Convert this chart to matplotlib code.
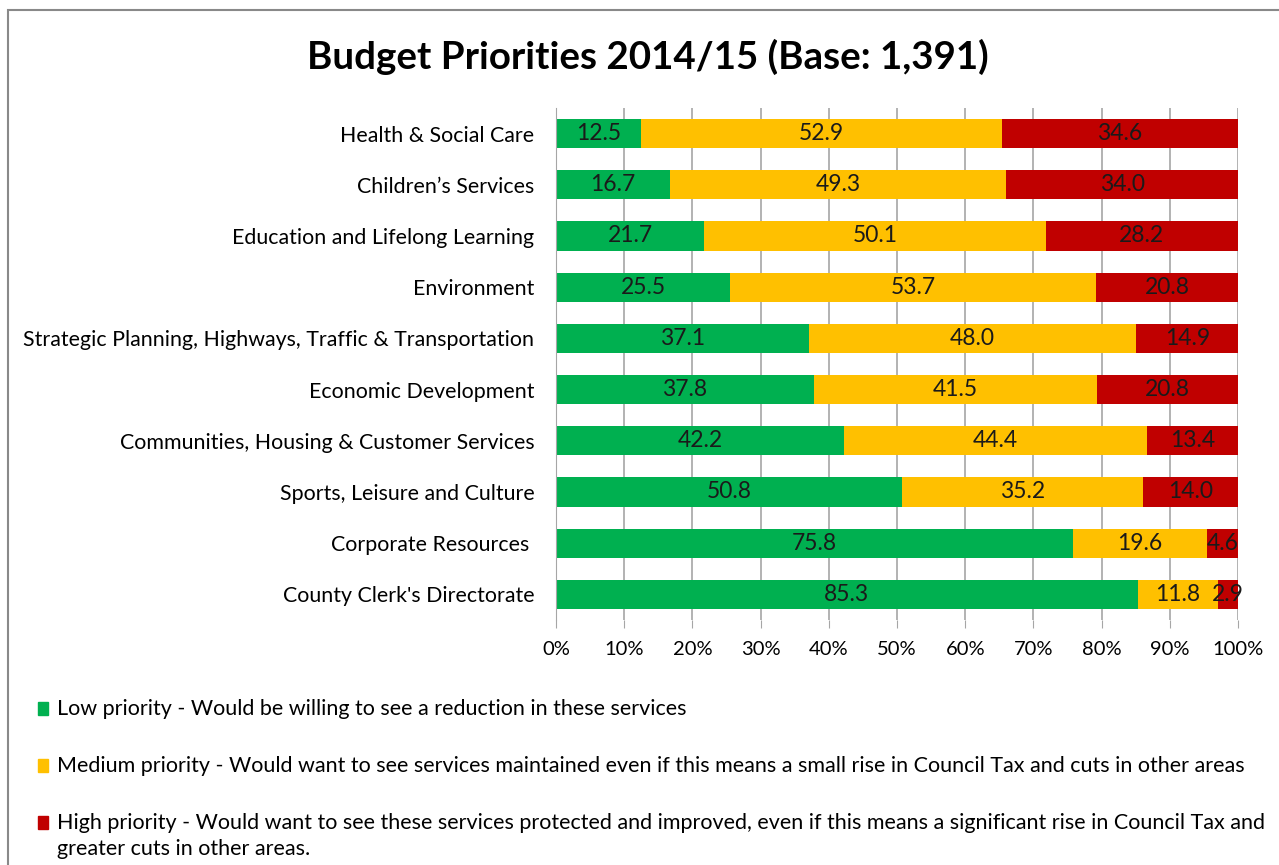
import numpy as np
import matplotlib.pyplot as plt
from matplotlib.patches import Rectangle

# Budget priorities survey 2014/15, % of respondents per service area
servicios = [
    "Health & Social Care",
    "Children\u2019s Services",
    "Education and Lifelong Learning",
    "Environment",
    "Strategic Planning, Highways, Traffic & Transportation",
    "Economic Development",
    "Communities, Housing & Customer Services",
    "Sports, Leisure and Culture",
    "Corporate Resources ",
    "County Clerk's Directorate",
]
baja = [12.5, 16.7, 21.7, 25.5, 37.1, 37.8, 42.2, 50.8, 75.8, 85.3]
media = [52.9, 49.3, 50.1, 53.7, 48.0, 41.5, 44.4, 35.2, 19.6, 11.8]
alta = [34.6, 34.0, 28.2, 20.8, 14.9, 20.8, 13.4, 14.0, 4.6, 2.9]

leyendas = [
    ["Low priority - Would be willing to see a reduction in these services"],
    ["Medium priority - Would want to see services maintained even if this "
     "means a small rise in Council Tax and cuts in other areas"],
    ["High priority - Would want to see these services protected and improved, "
     "even if this means a significant rise in Council Tax and",
     "greater cuts in other areas."],
]
colores = ["#00B050", "#FFC000", "#C00000"]
ticks_x = np.arange(0, 101, 10)

plt.rcParams['font.family'] = ['Lato', 'DejaVu Sans']

W, H = 1279, 865
fig = plt.figure(figsize=(W / 100, H / 100), dpi=100)

# marco gris del grafico
fig.patches.append(Rectangle((8 / W, -0.1), 1.2, 1 - 10 / H + 0.1,
                             transform=fig.transFigure, fill=False,
                             edgecolor="#898989", lw=1.5))

ax = fig.add_axes([556 / W, 1 - 620 / H, (1238 - 556) / W, (620 - 108) / H])

y = np.arange(len(servicios))
izq = np.zeros(len(servicios))
for serie, color in zip([baja, media, alta], colores):
    vals = np.array(serie)
    barras = ax.barh(y, vals, left=izq, height=0.57, color=color, zorder=2)
    ax.bar_label(barras, labels=["%.1f" % v for v in vals],
                 label_type="center", fontsize=16.5, color="#1a1a1a")
    izq += vals

ax.set_xlim(0, 100)
ax.set_ylim(len(servicios) - 0.5, -0.5)
ax.set_yticks(y)
ax.set_yticklabels(servicios, fontsize=15.4)
ax.set_xticks(ticks_x)
ax.set_xticklabels(["%d%%" % t for t in ticks_x], fontsize=14.5)
ax.tick_params(axis="y", length=0, pad=15.5)
ax.tick_params(axis="x", length=6, color="#A6A6A6", pad=9)
ax.grid(axis="x", color="#A6A6A6", lw=1.2, zorder=0)
for s in ["top", "right", "bottom"]:
    ax.spines[s].set_visible(False)
ax.spines["left"].set_color("#A6A6A6")

fig.text(648 / W, 1 - 57 / H, "Budget Priorities 2014/15 (Base: 1,391)",
         ha="center", va="center", fontsize=27.7, fontweight="bold")

# leyenda a mano, cuadrados alineados con la primera linea
filas = [708, 765, 822]
for lineas, color, fy in zip(leyendas, colores, filas):
    fig.patches.append(Rectangle((38 / W, 1 - (fy + 7) / H), 10 / W, 13 / H,
                                 transform=fig.transFigure, color=color))
    for i, linea in enumerate(lineas):
        fig.text(57 / W, 1 - (fy + 7 + 26 * i) / H, linea, ha="left",
                 va="baseline", fontsize=15.5)

fig.savefig("out.png", dpi=100)
